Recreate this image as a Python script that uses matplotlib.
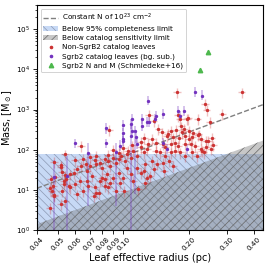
import numpy as np
import matplotlib
matplotlib.use("Agg")
import matplotlib.pyplot as plt
from matplotlib.patches import Patch
from matplotlib.lines import Line2D

# ---------------- data ----------------
red_r = [0.0463,0.0475,0.0468,0.048,0.046,0.0484,0.0514,0.0516,0.054,0.0545,0.053,0.056,0.054,0.0514,0.048,0.052,
         0.057,0.059,0.061,0.064,0.067,0.068,0.070,0.074,0.075,0.078,0.080,0.082,0.085,0.087,0.090,0.092,0.095,0.098,
         0.102,0.104,0.108,0.111,0.116,0.120,0.124,0.129,0.064,
         0.046,0.048,0.052,0.053,0.054,0.057,0.060,0.061,0.063,0.065,0.068,0.069,0.072,0.074,0.075,0.078,0.080,0.082,
         0.084,0.087,0.090,0.092,0.095,0.096,0.100,0.104,0.108,0.111,0.116,0.120,0.126,0.129,
         0.177,0.238,0.242,0.197,0.220,0.131,0.138,0.145,0.159,0.170,0.187,0.193,0.208,0.227,0.240,0.240,0.135,0.141,
         0.152,0.156,0.166,0.173,0.179,0.193,0.204,0.214,0.227,0.234,0.141,0.148,0.156,0.166,0.173,0.182,0.193,0.208,
         0.219,0.135,0.143,0.152,0.163,0.170,0.154,0.138,0.133,0.124,0.126,0.117,0.082,0.073,0.077,0.085,0.101,
         0.350,0.286,0.250,0.182,0.222,0.245,0.252,0.230,0.086,0.199,0.179,
         0.150,0.160,0.165,0.175,0.185,0.190,0.200,0.210,0.180,0.200,0.220,0.110,0.120,0.125,0.130,0.100,0.105,0.090,
         0.095,0.085,0.070,0.075,0.060,0.065,0.255,0.260]
red_m = [18.5,12.6,9.4,7.4,3.6,20.4,41,4.5,23,18.5,13.9,12.6,78,37.6,50,28,
         24.7,27,33,40,44,30,40,55,44,48,36,58,53,40,64,48,58,71,
         53,78,64,94,71,114,86,104,126,
         11,7,9.4,16.8,5.3,11.5,14,7.8,16.8,9.4,16.8,12.6,22,11.5,8.6,16.8,20,12.6,
         24.7,15,20,9.4,27,15,20,36,25,17,36,27,44,20,
         2700,1390,980,590,590,740,530,330,225,205,270,225,205,185,168,114,185,150,
         140,114,140,150,126,140,140,126,104,86,94,86,71,86,94,86,71,86,
         71,53,44,48,53,40,30,33,22.4,30,15,10.4,18.5,7,8.6,11.5,9.5,
         2700,785,500,590,245,168,104,94,310,605,720,
         270,250,300,310,380,330,300,260,200,190,230,130,160,200,140,110,95,100,
         85,75,65,70,55,60,200,130]
red_rel_err = 0.3

purple_r = [0.048,0.055,0.060,0.069,0.083,0.083,0.092,0.096,0.100,0.100,0.108,0.108,0.113,0.122,0.131,0.116,
            0.130,0.100,0.100,0.110,0.109,0.114,0.122,0.129,0.140,0.142,0.152,0.179,0.182,0.191,0.214,0.229,
            0.152,0.159,0.197]
purple_m = [21,22,144,83,345,144,86,126,255,168,440,225,300,400,480,140,
            1680,410,185,300,590,205,590,480,590,710,785,940,710,940,2800,2240,
            150,104,104]
purple_lo = [1.0,1.0,110,4,250,110,4,95,190,125,330,1.0,8,300,360,105,
             1300,300,140,220,450,150,440,360,440,530,590,700,530,700,2100,1700,
             110,78,78]
purple_hi = [55,70,185,150,460,190,150,170,340,220,590,400,400,530,640,185,
             2200,550,245,400,780,270,780,640,780,940,1040,1250,940,1250,3700,3000,
             200,140,140]

green_r = [0.245, 0.225]
green_m = [27000, 9500]

xticks = [0.04,0.05,0.06,0.07,0.08,0.09,0.10,0.20,0.30,0.40]
xlim = (0.04, 0.44)
ylim = (1.0, 4e5)
completeness_mass = 80.0
sens_m0, sens_r0 = 1.4, 0.04      # sensitivity limit M = m0 (r/r0)^2
colN_m0 = 11.0                    # constant N line M = m0 (r/r0)^2

# ---------------- plot ----------------
plt.rcParams['hatch.linewidth'] = 0.5
fig = plt.figure(figsize=(2.69, 2.70), dpi=100)
ax = fig.add_axes([0.1375, 0.148, 0.8405, 0.833])
ax.set_xscale('log'); ax.set_yscale('log')

rr = np.geomspace(xlim[0], xlim[1], 200)
ax.fill_between(rr, ylim[0], completeness_mass, facecolor=(0.78, 0.85, 0.96), edgecolor=(0.55, 0.6, 0.7),
                hatch='\\\\\\\\', linewidth=0, zorder=1)
ax.fill_between(rr, ylim[0], sens_m0 * (rr / sens_r0) ** 2, facecolor=(0.45, 0.45, 0.45, 0.4),
                edgecolor=(0.4, 0.4, 0.4), hatch='////', linewidth=0, zorder=1.2)
ax.plot(rr, colN_m0 * (rr / sens_r0) ** 2, ls='--', color='gray', lw=1.0, zorder=2)

red_r_a = np.array(red_r); red_m_a = np.array(red_m)
red_col = (0.8, 0.2, 0.2)
ax.errorbar(red_r_a, red_m_a, yerr=red_m_a * red_rel_err, xerr=red_r_a * 0.04, fmt='none',
            ecolor=(0.8, 0.2, 0.2, 0.3), elinewidth=1.0, zorder=3)
ax.plot(red_r_a, red_m_a, 'o', ms=1.4, color=red_col, zorder=4)

pr = np.array(purple_r); pm = np.array(purple_m)
pl = pm - np.array(purple_lo); ph = np.array(purple_hi) - pm
pur_col = (0.45, 0.2, 0.75)
ax.errorbar(pr, pm, yerr=[pl, ph], fmt='none', ecolor=(0.45, 0.2, 0.75, 0.35), elinewidth=1.2, zorder=3)
ax.plot(pr, pm, 'o', ms=1.4, color=pur_col, zorder=4)

grn_col = (0.3, 0.72, 0.3)
ax.plot(green_r, green_m, '^', ms=3.2, color=grn_col, zorder=5)

ax.set_xlim(*xlim); ax.set_ylim(*ylim)
ax.set_xticks(xticks)
ax.set_xticklabels([f"{t:.2f}" for t in xticks], rotation=45, fontsize=5.2)
ax.xaxis.set_minor_locator(matplotlib.ticker.NullLocator())
ax.tick_params(axis='y', labelsize=5.2, pad=2)
ax.tick_params(axis='x', pad=1.5)
ax.tick_params(axis='both', which='major', length=3, width=0.6)
ax.tick_params(axis='y', which='minor', length=1.8, width=0.5)
ax.set_xlabel('Leaf effective radius (pc)', fontsize=7, labelpad=1)
ax.set_ylabel(r'Mass, [M$_\odot$]', fontsize=7, labelpad=1)
for s in ax.spines.values():
    s.set_linewidth(0.8)

handles = [
    Line2D([], [], ls='--', color='gray', lw=1.0),
    Patch(facecolor=(0.78, 0.85, 0.96), edgecolor=(0.55, 0.6, 0.7), hatch='\\\\\\\\', linewidth=0),
    Patch(facecolor=(0.45, 0.45, 0.45, 0.4), edgecolor=(0.4, 0.4, 0.4), hatch='////', linewidth=0),
    Line2D([], [], ls='none', marker='o', ms=1.6, color=red_col),
    Line2D([], [], ls='none', marker='o', ms=1.6, color=pur_col),
    Line2D([], [], ls='none', marker='^', ms=3.2, color=grn_col),
]
labels = [r'Constant N of 10$^{23}$ cm$^{-2}$', 'Below 95% completeness limit',
          'Below catalog sensitivity limit', 'Non-SgrB2 catalog leaves',
          'Sgrb2 catalog leaves (bg. sub.)', 'Sgrb2 N and M (Schmiedeke+16)']
leg = ax.legend(handles, labels, loc='upper left', fontsize=5.2, framealpha=1.0, borderpad=0.4,
                labelspacing=0.42, handlelength=2.0, handletextpad=0.6)
leg.get_frame().set_linewidth(0.6)

fig.savefig('out.png', dpi=100)
